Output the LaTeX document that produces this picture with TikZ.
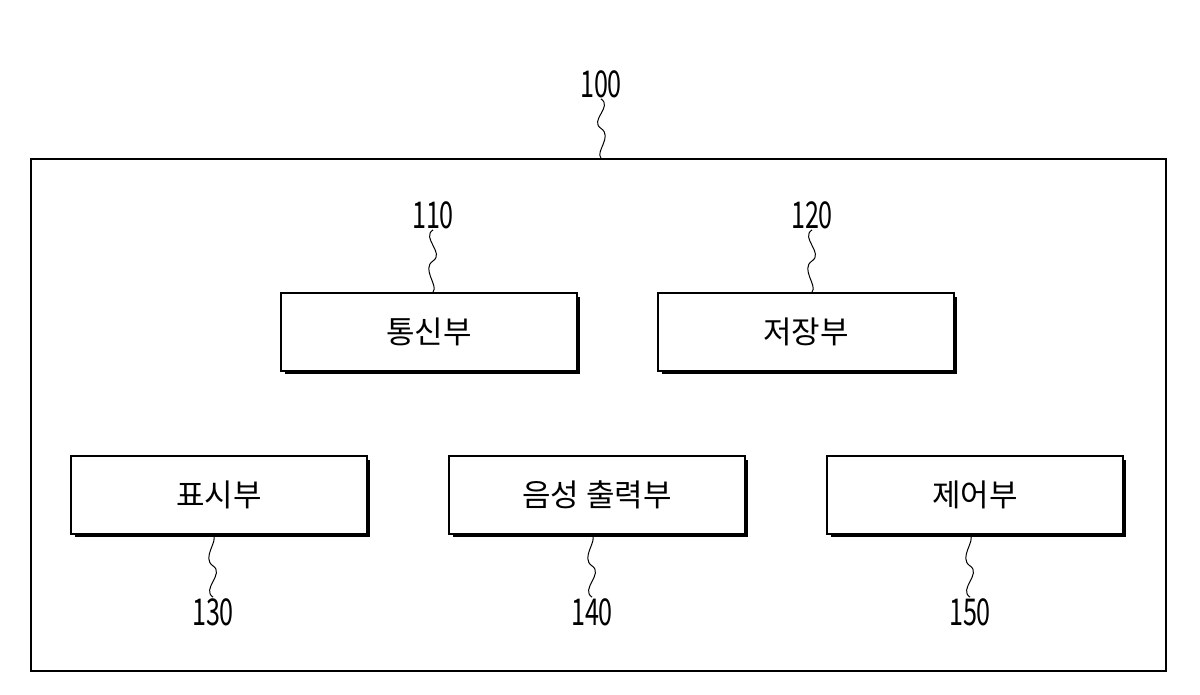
\documentclass[tikz,border=0pt]{standalone}
\usepackage{fontspec}
\setmainfont{Noto Sans CJK KR}
\usepackage{graphicx}
\usetikzlibrary{calc}
\begin{document}
\begin{tikzpicture}[x=1pt,y=-1pt,
  blk/.style={draw,line width=1.6pt,minimum width=296pt,minimum height=78pt,font=\fontsize{31}{34}\selectfont},
  num/.style={font=\fontsize{37}{40}\selectfont,inner sep=1pt},
  sq/.style={line width=1pt}]
\useasboundingbox (0,0) rectangle (1200,694);
\node[draw,line width=1.6pt,minimum width=1135pt,minimum height=512pt,anchor=north west] (outer) at (30,158) {};
\foreach \n/\x/\y/\t in {b110/280/292/통신부, b120/657/292/저장부, b130/70/455/표시부, b140/448/455/음성 출력부, b150/826/455/제어부}{
  \fill (\x+5,\y+5) rectangle (\x+300,\y+82);
  \node[blk,fill=white,anchor=north west] (\n) at (\x,\y) {\t};
}
\node[num] (l100) at (601,84) {\scalebox{0.68}[1]{100}};
\node[num] (l110) at (433,215) {\scalebox{0.68}[1]{110}};
\node[num] (l120) at (812,215) {\scalebox{0.68}[1]{120}};
\node[num] (l130) at (213,612) {\scalebox{0.68}[1]{130}};
\node[num] (l140) at (592,612) {\scalebox{0.68}[1]{140}};
\node[num] (l150) at (970,612) {\scalebox{0.68}[1]{150}};
\draw[sq] (l100.south) .. controls +(12,8) and +(-12,-8) .. ($(l100.south)!0.5!(l100.south|-outer.north)$) .. controls +(12,8) and +(-6,-6) .. (l100.south|-outer.north);
\foreach \l/\b in {l110/b110,l120/b120}{
  \draw[sq] (\l.south) .. controls +(-12,8) and +(12,-8) .. ($(\l.south)!0.5!(\l.south|-\b.north)$) .. controls +(-12,8) and +(6,-6) .. (\l.south|-\b.north);
}
\foreach \l/\b in {l130/b130,l140/b140,l150/b150}{
  \draw[sq] (\l.north) .. controls +(-12,-8) and +(12,8) .. ($(\l.north)!0.5!(\l.north|-\b.south)$) .. controls +(-12,-8) and +(6,6) .. (\l.north|-\b.south);
}
\end{tikzpicture}
\end{document}
